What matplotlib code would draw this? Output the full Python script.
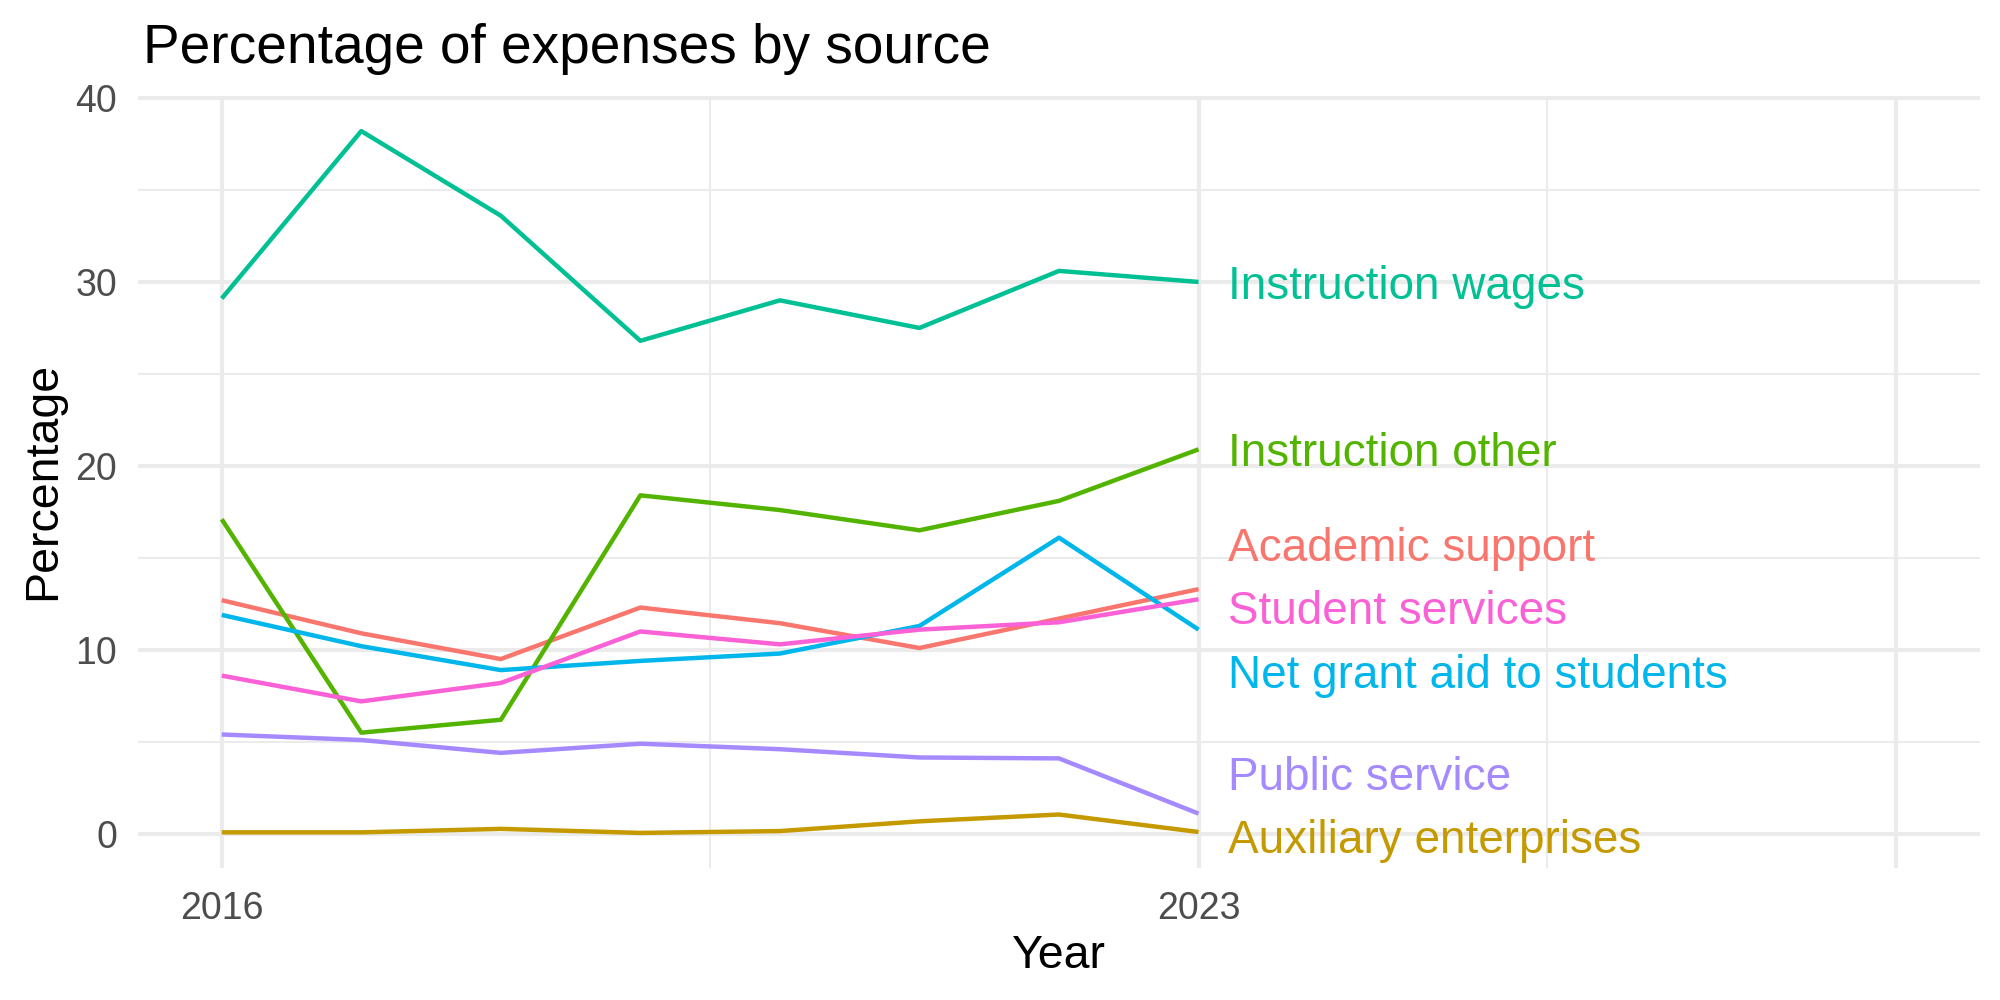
import matplotlib
matplotlib.use("Agg")
import matplotlib.pyplot as plt
from matplotlib.ticker import FixedLocator, FixedFormatter

plt.rcParams['font.family'] = ['Liberation Sans', 'DejaVu Sans']

years = [2016, 2017, 2018, 2019, 2020, 2021, 2022, 2023]

academic_support = [12.7, 10.9, 9.5, 12.3, 11.45, 10.1, 11.7, 13.3]
auxiliary_enterprises = [0.08, 0.08, 0.27, 0.05, 0.15, 0.68, 1.05, 0.1]
instruction_other = [17.1, 5.5, 6.2, 18.4, 17.6, 16.5, 18.1, 20.9]
instruction_wages = [29.1, 38.2, 33.6, 26.8, 29.0, 27.5, 30.6, 30.0]
net_grant_aid = [11.9, 10.2, 8.9, 9.4, 9.8, 11.3, 16.1, 11.1]
public_service = [5.4, 5.1, 4.4, 4.9, 4.6, 4.15, 4.1, 1.1]
student_services = [8.6, 7.2, 8.2, 11.0, 10.3, 11.1, 11.5, 12.75]

sources = ["Academic support", "Auxiliary enterprises", "Instruction other",
           "Instruction wages", "Net grant aid to students", "Public service",
           "Student services"]
values = [academic_support, auxiliary_enterprises, instruction_other,
          instruction_wages, net_grant_aid, public_service, student_services]
colors = ["#F8766D", "#C49A00", "#53B400", "#00C094", "#00B6EB", "#A58AFF", "#FB61D7"]

# label positions after repelling (y of label centre)
label_x = 2023.21
label_y = [15.7, -0.13, 20.9, 29.95, 8.8, 3.3, 12.3]

x_breaks = [2016, 2023, 2028]
x_labels = ["2016", "2023", ""]
x_minor = [2019.5, 2025.5]
y_breaks = [0, 10, 20, 30, 40]
y_minor = [5, 15, 25, 35]

fig = plt.figure(figsize=(20, 10), dpi=100)
ax = fig.add_axes([0.069, 0.132, 0.921, 0.772])

for name, vals, col in zip(sources, values, colors):
    ax.plot(years, vals, color=col, lw=3.2, solid_capstyle='butt', zorder=3)

for name, ly, col in zip(sources, label_y, colors):
    ax.annotate(name, xy=(label_x, ly), xytext=(0, -11.8), textcoords='offset points',
                ha='left', va='baseline', color=col, fontsize=33, zorder=4)

# ggplot style expansion
xmin, xmax = 2016, 2028
allv = [v for s in values for v in s]
ymin, ymax = min(allv), max(allv)
ax.set_xlim(xmin - 0.05 * (xmax - xmin), xmax + 0.05 * (xmax - xmin))
ax.set_ylim(ymin - 0.05 * (ymax - ymin), ymax + 0.05 * (ymax - ymin))

ax.xaxis.set_major_locator(FixedLocator(x_breaks))
ax.xaxis.set_major_formatter(FixedFormatter(x_labels))
ax.xaxis.set_minor_locator(FixedLocator(x_minor))
ax.yaxis.set_major_locator(FixedLocator(y_breaks))
ax.yaxis.set_minor_locator(FixedLocator(y_minor))

ax.grid(which='major', color='#EBEBEB', lw=3.0, zorder=0)
ax.grid(which='minor', color='#EBEBEB', lw=1.5, zorder=0)
ax.set_axisbelow(True)
for sp in ax.spines.values():
    sp.set_visible(False)
ax.tick_params(which='both', length=0, labelsize=27, labelcolor='#4D4D4D')
ax.tick_params(axis='x', pad=16.5)
ax.tick_params(axis='y', pad=15)

fig.text(0.0715, 0.937, "Percentage of expenses by source", fontsize=39.6,
         ha='left', va='baseline', color='black')
fig.text(0.5295, 0.032, "Year", fontsize=33.5, ha='center', va='baseline')
fig.text(0.0275, 0.519, "Percentage", fontsize=33.5, rotation=90,
         rotation_mode='anchor', ha='center', va='baseline')

fig.savefig("out.png", dpi=100)
